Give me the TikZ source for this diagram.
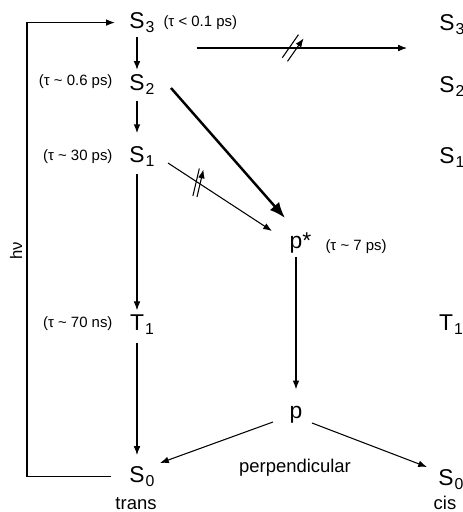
\documentclass[tikz,border=0pt]{standalone}
\usepackage{fontspec}
\setmainfont{Liberation Sans}
\usetikzlibrary{arrows.meta}
\newcommand{\lvl}[2]{#1\rlap{\kern.6pt\raisebox{-2.8pt}{\fontsize{9}{9}\selectfont #2}}}

\begin{document}
\begin{tikzpicture}[x=0.02cm,y=-0.02cm,>={Latex[length=5pt,width=3.8pt]},line width=.6pt,
  state/.style={font=\fontsize{13}{15}\selectfont,inner sep=2pt,anchor=base},
  life/.style={font=\fontsize{8.5}{10}\selectfont,inner sep=0pt},
  side/.style={font=\fontsize{10.5}{12}\selectfont,inner sep=0pt,anchor=base},
  pics/brk/.style={code={\draw[line width=.6pt] (-#1,-8pt) -- (-#1,8pt) (#1,-8pt) -- (#1,8pt);}}]
  \useasboundingbox (0,0) rectangle (463,512);
  % trans side
  \node[state] (S3) at (137,28) {\lvl{S}{3}};
  \node[state] (S2) at (137,90) {\lvl{S}{2}};
  \node[state] (S1) at (137,162) {\lvl{S}{1}};
  \node[state] (T1) at (137,330) {\lvl{T}{1}};
  \node[state] (S0) at (137,482) {\lvl{S}{0}};
  \node[side] (trans) at (136,509) {trans};
  \node[life,anchor=base west] (tau3) at (163,26) {(τ < 0.1 ps)};
  \node[life,anchor=base east] (tau2) at (113,85) {(τ \textasciitilde{} 0.6 ps)};
  \node[life,anchor=base east] (tau1) at (113,160) {(τ \textasciitilde{} 30 ps)};
  \node[life,anchor=base east] (tauT) at (113,327) {(τ \textasciitilde{} 70 ns)};
  % cis side
  \node[state] (S3r) at (447,30) {\lvl{S}{3}};
  \node[state] (S2r) at (447,92) {\lvl{S}{2}};
  \node[state] (S1r) at (447,163) {\lvl{S}{1}};
  \node[state] (T1r) at (446,330) {\lvl{T}{1}};
  \node[state] (S0r) at (446,485) {\lvl{S}{0}};
  \node[side] (cis) at (445,509) {cis};
  % twisted states
  \node[state] (ps) at (296,248) {p\rlap{*}};
  \node[life,anchor=base west] (taup) at (325,250) {(τ \textasciitilde{} 7 ps)};
  \node[state] (p) at (296,418) {p};
  \node[side] (perp) at (295,472) {perpendicular};
  % excitation
  \coordinate (hvline) at (27,250);
  \node[font=\fontsize{9.5}{11}\selectfont,rotate=90,inner sep=0pt] (hv) at (16,251) {hν};
  \draw[->,shorten <=8pt,shorten >=6pt] (S0.west) -| (hvline) |- (S3.west);
  % cascade
  \draw[->,line width=.8pt] (S3) -- (S2);
  \draw[->,line width=.8pt,shorten <=1pt,shorten >=5pt] (S2) -- (S1);
  \draw[->,shorten <=2pt] (S1) -- (T1);
  \draw[->,shorten <=2.5pt,shorten >=4pt] (T1) -- (S0);
  \draw[->] ([shift={(60,20)}]S3.base) -- pic[pos=.457,sloped,rotate=-35]{brk=1.8pt} ([shift={(-40,18)}]S3r.base);
  \draw[-{Latex[length=9pt,width=7pt]},line width=1.4pt] ([shift={(34,-2)}]S2.base) -- ([shift={(-11,-30)}]ps.base);
  \draw[->] ([shift={(31,1)}]S1.base) -- pic[pos=.29,sloped,rotate=20]{brk=1.2pt} ([shift={(-24,-17)}]ps.base);
  \draw[->,shorten >=7pt] (ps) -- (p);
  \draw[->] ([shift={(-23,4)}]p.base) -- ([shift={(23,-19)}]S0.base);
  \draw[->] ([shift={(16,5)}]p.base) -- ([shift={(-19,-18)}]S0r.base);
\end{tikzpicture}
\end{document}
